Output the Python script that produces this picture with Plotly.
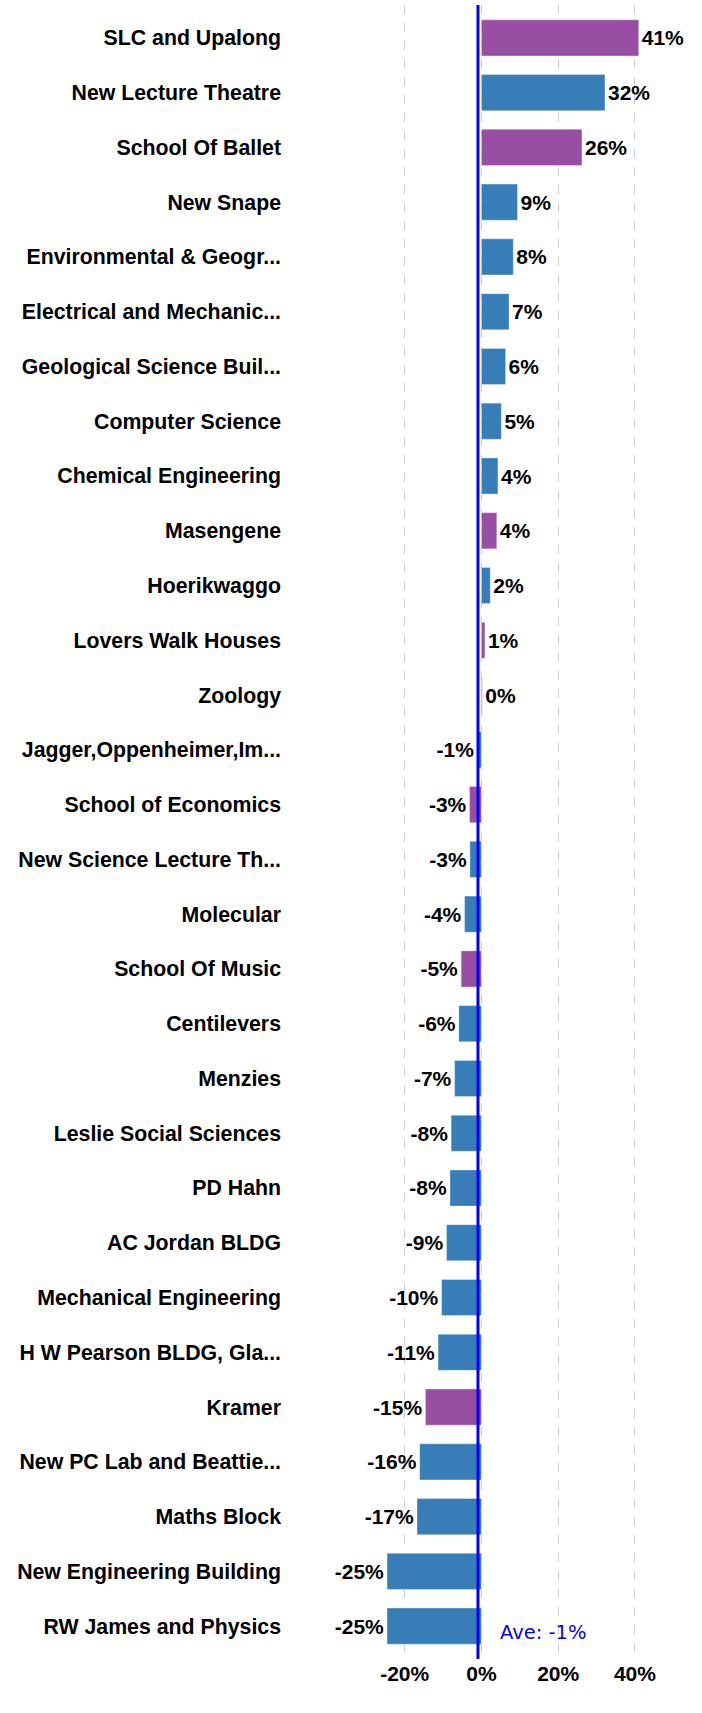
import plotly.graph_objects as go

buildings = [
    "SLC and Upalong", "New Lecture Theatre", "School Of Ballet", "New Snape",
    "Environmental & Geogr...", "Electrical and Mechanic...", "Geological Science Buil...",
    "Computer Science", "Chemical Engineering", "Masengene", "Hoerikwaggo",
    "Lovers Walk Houses", "Zoology", "Jagger,Oppenheimer,Im...", "School of Economics",
    "New Science Lecture Th...", "Molecular", "School Of Music", "Centilevers", "Menzies",
    "Leslie Social Sciences", "PD Hahn", "AC Jordan BLDG", "Mechanical Engineering",
    "H W Pearson BLDG, Gla...", "Kramer", "New PC Lab and Beattie...", "Maths Block",
    "New Engineering Building", "RW James and Physics",
]
change_pct = [
    41.0, 32.2, 26.2, 9.4, 8.3, 7.2, 6.3, 5.2, 4.3, 4.0, 2.3, 0.9, 0.2,
    -1.1, -3.1, -3.0, -4.4, -5.3, -5.9, -7.0, -7.9, -8.2, -9.1, -10.4, -11.3,
    -14.6, -16.1, -16.8, -24.6, -24.6,
]
group = [
    "P", "B", "P", "B", "B", "B", "B", "B", "B", "P", "B", "P", "B",
    "B", "P", "B", "B", "P", "B", "B", "B", "B", "B", "B", "B",
    "P", "B", "B", "B", "B",
]
average_pct = -0.9
average_label = "Ave: -1%"
x_ticks = [-20, 0, 20, 40]
x_tick_labels = ["-20%", "0%", "20%", "40%"]

palette = {"P": "#984EA3", "B": "#377EB8"}
colors = [palette[g] for g in group]
labels = [f"{round(v):d}%" for v in change_pct]

fig = go.Figure()
fig.add_trace(go.Bar(
    y=buildings, x=change_pct, orientation="h",
    marker=dict(color=colors, line=dict(color="rgba(255,255,255,0.35)", width=1)),
    width=0.66,
    text=labels, textposition="outside", constraintext="none", cliponaxis=False,
    outsidetextfont=dict(family="Liberation Sans, Arial, sans-serif", size=21,
                         color="black", weight="bold"),
    showlegend=False, hoverinfo="skip",
))

fig.add_shape(type="line", xref="x", yref="paper", x0=average_pct, x1=average_pct,
              y0=0, y1=1, line=dict(color="#0000FF", width=3), layer="above")
fig.add_annotation(x=average_pct, y=buildings[-1], xref="x", yref="y",
                   text=average_label, showarrow=False, xanchor="left",
                   xshift=20, yshift=-6,
                   font=dict(family="DejaVu Sans, Verdana, sans-serif", size=19.5,
                             color="#0000FF"))

fig.update_layout(
    width=702, height=1713,
    margin=dict(l=290, r=13, t=5, b=54),
    plot_bgcolor="white", paper_bgcolor="white",
    bargap=0.34,
)
fig.update_xaxes(
    range=[-49.9, 54.1], tickvals=x_ticks, ticktext=x_tick_labels,
    showgrid=True, gridcolor="#d0d0d0", griddash="dash", gridwidth=1,
    zeroline=False, showline=False, ticks="",
    tickfont=dict(family="Liberation Sans, Arial, sans-serif", size=21,
                  color="black", weight="bold"),
)
fig.update_yaxes(
    categoryorder="array", categoryarray=buildings,
    range=[len(buildings) - 1 + 0.6, -0.6],
    showgrid=False, zeroline=False, showline=False, ticks="",
    ticklabelstandoff=8,
    tickfont=dict(family="Liberation Sans, Arial, sans-serif", size=21.3,
                  color="black", weight="bold"),
)

fig.write_html("out.html", config={"displayModeBar": False},
               post_script="document.body.style.margin='0';document.body.style.overflow='hidden';")
